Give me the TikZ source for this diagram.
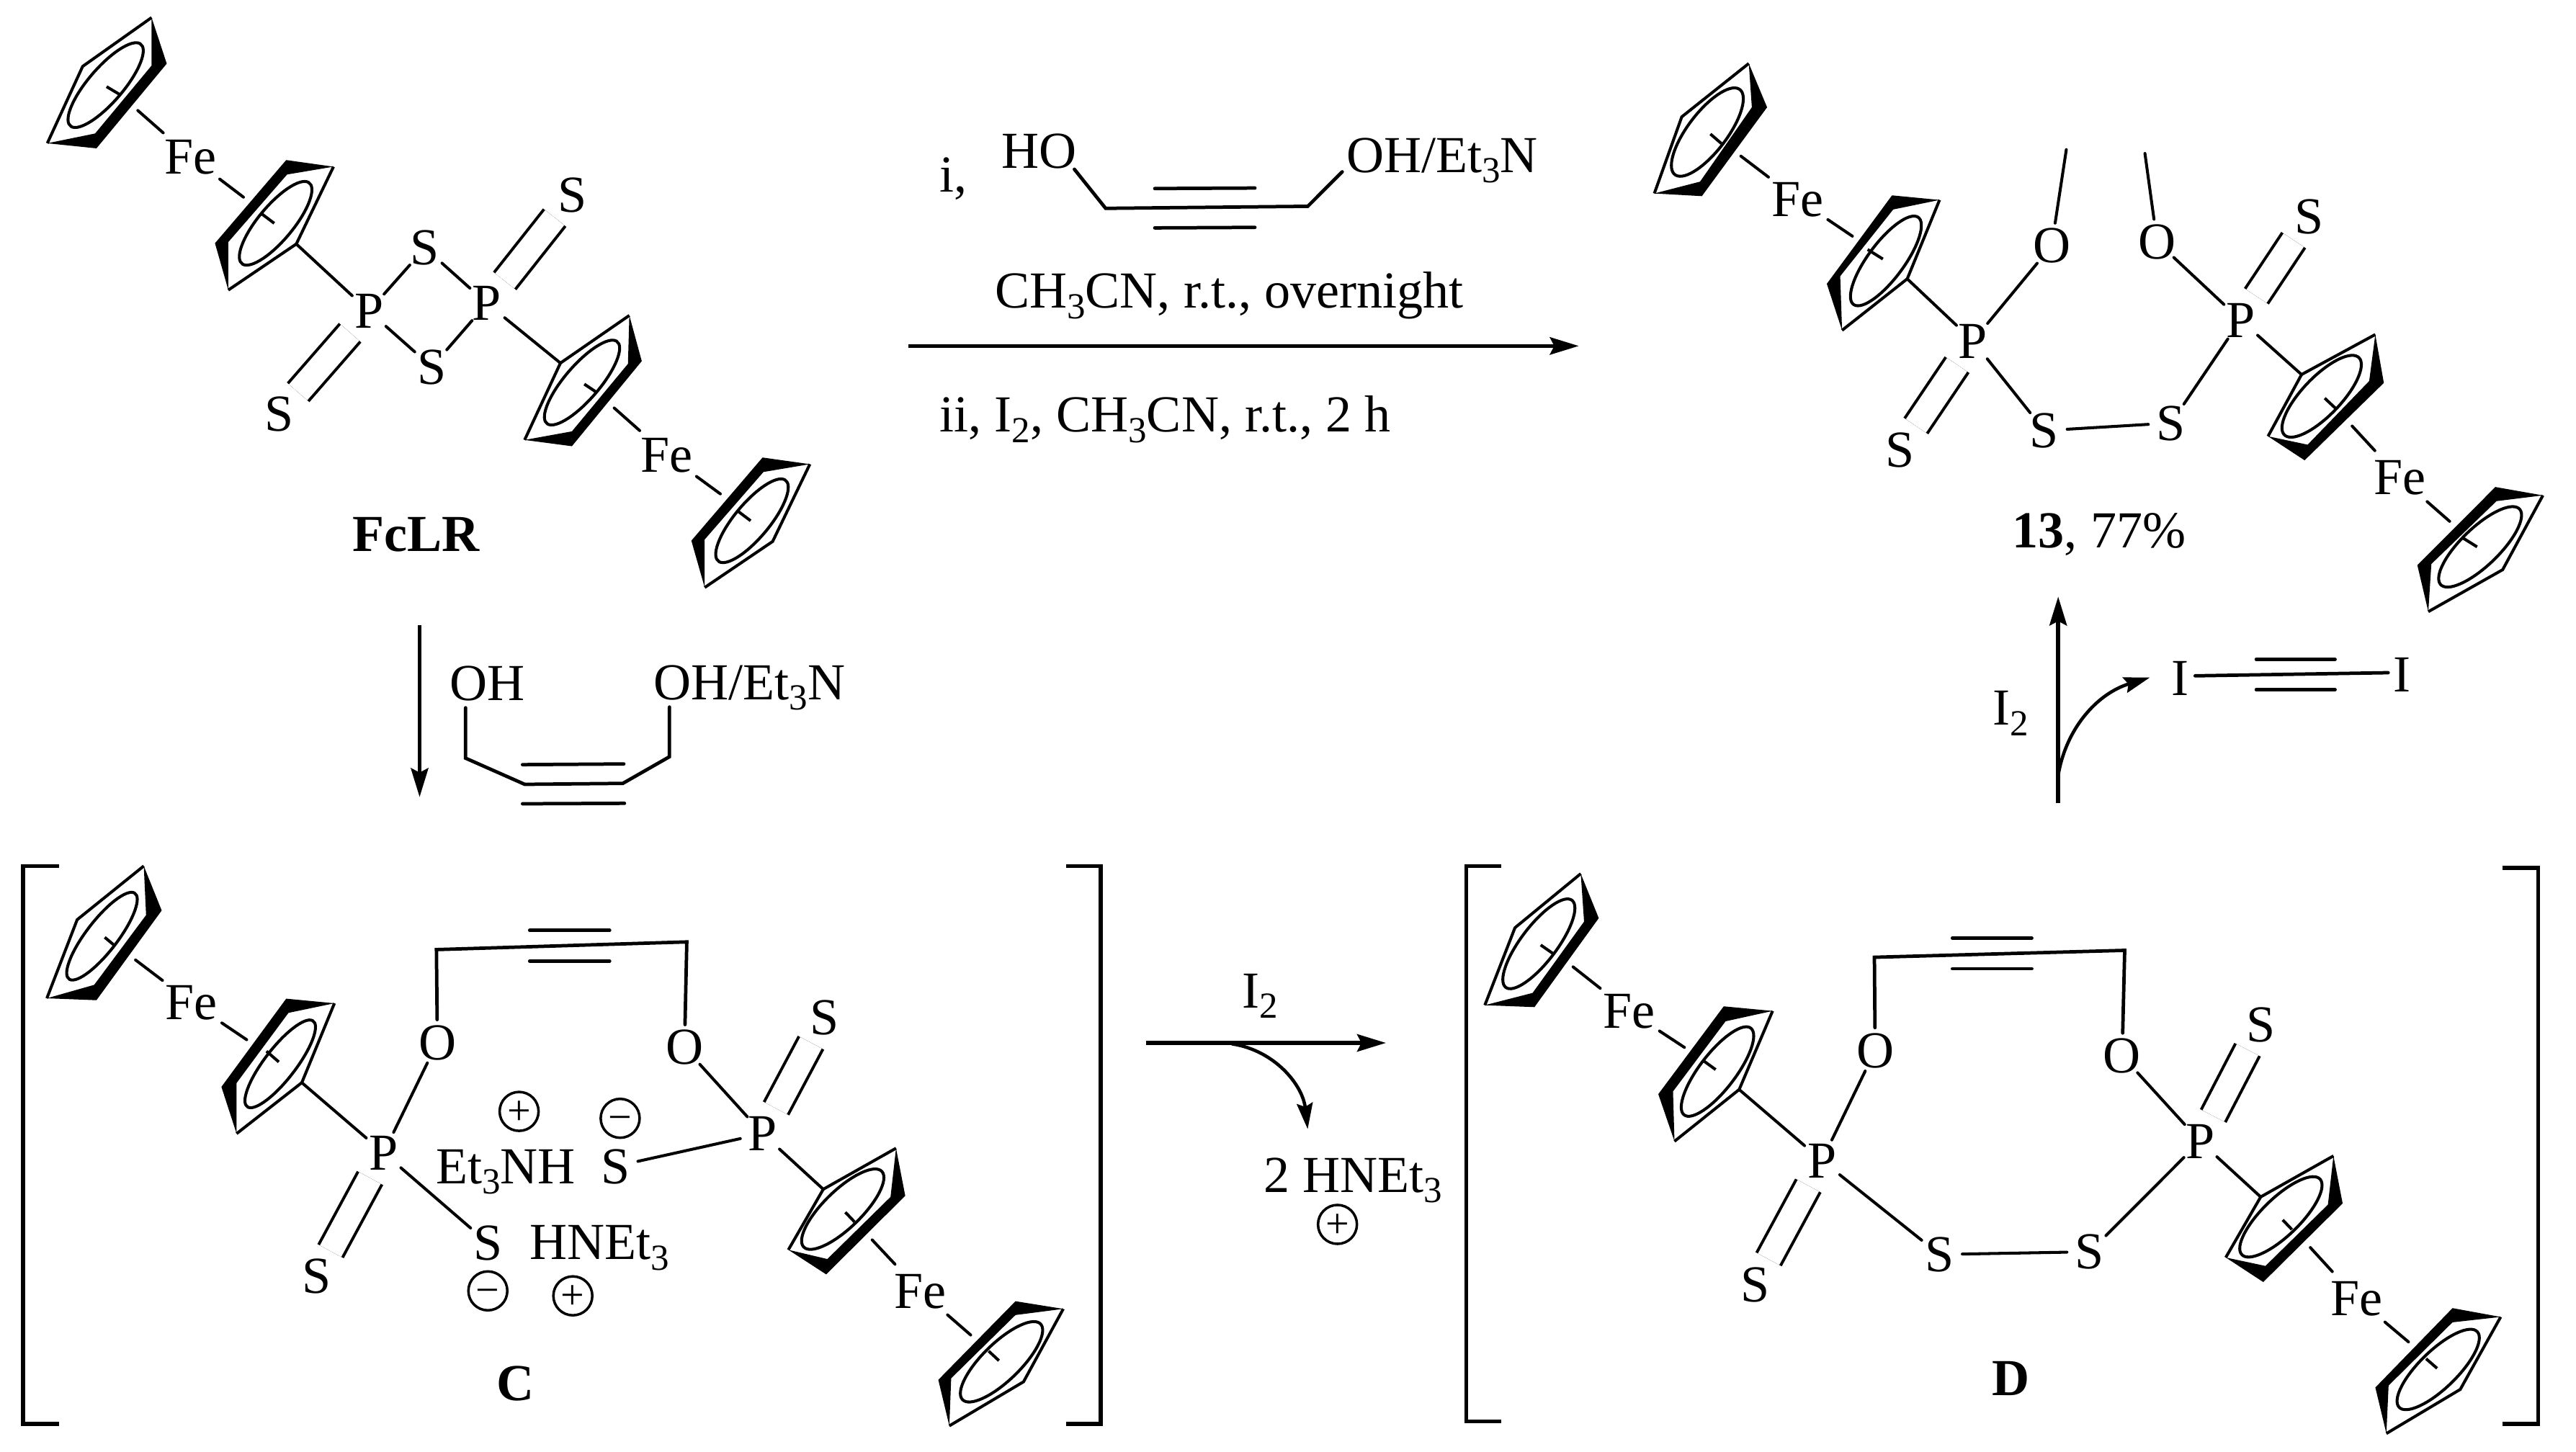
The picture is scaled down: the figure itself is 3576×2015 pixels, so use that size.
\documentclass[tikz,border=0pt]{standalone}
\usepackage{fontspec}
\setmainfont{Liberation Serif}
\usetikzlibrary{arrows.meta}
\newcommand\atm[1]{\makebox[0pt]{\raisebox{-0.33em}[0pt][0pt]{#1}}}
\newcommand\chgm[1]{\makebox[0pt]{\raisebox{-0.25em}[0pt][0pt]{\fontsize{16.5}{18}\selectfont #1}}}
\newcommand\subs[1]{\raisebox{-0.2em}{\fontsize{14.5}{16}\selectfont #1}}
% ring: A B C D E innerD innerA name-of-E
\newcommand\cpring[8]{%
  \coordinate (#8) at (#5);
  \fill[black] (#1) -- (#2) -- (#3) -- (#4) -- (#6) -- (#7) -- cycle;
  \draw[ringline] (#1) -- (#5) -- (#4);}
% ellipse: centre a b angle tick1 tick2
\newcommand\cpell[6]{%
  \draw[ringline] (#1) circle[x radius=#2, y radius=#3, rotate=#4];
  \draw[ringline] (#5) -- (#6);}
\newcommand\frbond[3]{\coordinate (#1) at (#2); \draw[bond] (#3) -- (#1);}
\newcommand\seg[4][alk]{\coordinate (#2a) at (#3); \coordinate (#2b) at (#4); \draw[#1] (#2a) -- (#2b);}
\tikzset{
  bond/.style={line width=1.15pt,line cap=round},
  alk/.style={line width=1.35pt,line cap=round},
  ringline/.style={line width=1.15pt},
  dbl/.style={line width=1.15pt,double,double distance=0.335cm,shorten >=0.08cm,shorten <=0.08cm},
  atom/.style={circle,inner sep=0pt,minimum size=0.62cm},
  feat/.style={circle,inner sep=0pt,minimum size=1cm},
  lbl/.style={inner sep=0pt,anchor=base west},
  chg/.style={draw,line width=1pt,circle,inner sep=0pt,minimum size=0.54cm},
  brk/.style={line width=1.55pt,line join=miter},
  rxn/.style={line width=1.55pt,-{Stealth[length=0.4cm,width=0.24cm,inset=0.06cm]}},
  crv/.style={line width=1.3pt,-{Stealth[length=0.36cm,width=0.22cm,inset=0.05cm]}},
  zm/.style n args={4}{shift={(#1,#2)},xscale=1/#3,yscale=1/#4},
}
\begin{document}
\begin{tikzpicture}[x=0.01cm,y=-0.01cm,font=\fontsize{20.5}{24}\selectfont]
\path[use as bounding box,fill=white] (0,0) rectangle (3576,2015);

% ===== FcLR =====
\begin{scope}[zm={0}{0}{1.568}{1.845}]
\cpring{330,45}{363,163}{210,380}{103,367}{180,170}{207,342}{330,168}{a1e}
\cpell{230,218}{130}{40}{54.7}{232,222}{262,243}
\cpring{497,743}{468,623}{623,410}{726,427}{645,625}{625,447}{497,620}{a2e}
\cpell{600,572}{127}{40}{55.6}{570,548}{597,572}
\cpring{1370,808}{1397,925}{1245,1143}{1142,1127}{1220,930}{1245,1105}{1367,932}{a3e}
\cpell{1267,980}{130}{40}{54.7}{1272,984}{1300,1006}
\cpring{1534,1505}{1505,1385}{1660,1172}{1763,1189}{1682,1387}{1662,1209}{1534,1382}{a4e}
\cpell{1637,1334}{127}{40}{55.6}{1607,1310}{1634,1334}
\node[feat] (aFe1) at (415,402) {\atm{Fe}};
\node[feat] (aFe2) at (1452,1165) {\atm{Fe}};
\node[atom] (aP1) at (803,797) {\atm{P}};
\node[atom] (aP2) at (1060,777) {\atm{P}};
\node[atom] (aS1) at (925,635) {\atm{S}};
\node[atom] (aS2) at (940,940) {\atm{S}};
\node[atom] (aS3) at (1246,500) {\atm{S}};
\node[atom] (aS4) at (608,1060) {\atm{S}};
\frbond{af1}{300,283}{aFe1}
\frbond{af2}{530,505}{aFe1}
\frbond{af3}{1337,1045}{aFe2}
\frbond{af4}{1568,1265}{aFe2}
\draw[bond] (aP1) -- (a2e);
\draw[bond] (aP2) -- (a3e);
\draw[bond] (aP1) -- (aS1);
\draw[bond] (aP1) -- (aS2);
\draw[bond] (aP2) -- (aS1);
\draw[bond] (aP2) -- (aS2);
\draw[dbl] (aP2) -- (aS3);
\draw[dbl] (aP1) -- (aS4);
\node[lbl,anchor=base,font=\fontsize{20.5}{24}\selectfont\bfseries] (aName) at (906,1413) {FcLR};
\end{scope}

% ===== reagents top =====
\begin{scope}[zm={1200}{100}{1.568}{2.8}]
\node[lbl] (ti) at (163,465) {i,};
\node[lbl] (tHO) at (298,375) {HO};
\node[lbl] (tOH) at (1048,390) {OH/Et\subs{3}N};
\coordinate (t1) at (457,378); \coordinate (t2) at (525,530); \coordinate (t3) at (965,522); \coordinate (t4) at (1040,388);
\draw[alk,line join=miter] (t1) -- (t2) -- (t3) -- (t4);
\seg{tu}{632,453}{850,451}
\seg{td}{632,606}{850,604}
\node[lbl] (tA) at (283,918) {CH\subs{3}CN, r.t., overnight};
\node[lbl] (tB) at (163,1400) {ii, I\subs{2}, CH\subs{3}CN, r.t., 2 h};
\coordinate (ts) at (95,1065); \coordinate (te) at (1555,1065);
\draw[rxn] (ts) -- (te);
\end{scope}

% ===== compound 13 =====
\begin{scope}[zm={2250}{50}{1.182}{1.889}]
\cpring{210,72}{240,187}{133,420}{55,413}{100,212}{130,382}{215,187}{b1e}
\cpell{142,252}{125}{36}{67}{147,257}{165,282}
\cpring{363,772}{338,650}{445,418}{523,430}{470,637}{447,455}{360,630}{b2e}
\cpell{435,590}{127}{33}{67}{405,560}{430,585}
\cpring{1238,783}{1252,910}{1122,1113}{1062,1050}{1117,888}{1127,1072}{1228,905}{b3e}
\cpell{1150,945}{120}{37}{62}{1155,950}{1175,980}
\cpring{1325,1510}{1307,1388}{1435,1183}{1513,1205}{1447,1400}{1437,1220}{1330,1385}{b4e}
\cpell{1410,1340}{120}{37}{60}{1380,1315}{1405,1340}
\node[feat] (bFe1) at (290,428) {\atm{Fe}};
\node[feat] (bFe2) at (1278,1158) {\atm{Fe}};
\node[atom] (bP1) at (578,800) {\atm{P}};
\node[atom] (bP2) at (1017,745) {\atm{P}};
\node[atom] (bO1) at (707,550) {\atm{O}};
\node[atom] (bO2) at (880,540) {\atm{O}};
\node[atom] (bS1) at (695,1035) {\atm{S}};
\node[atom] (bS2) at (903,1015) {\atm{S}};
\node[atom] (bS3) at (1130,473) {\atm{S}};
\node[atom] (bS4) at (458,1085) {\atm{S}};
\frbond{bf1}{197,315}{bFe1}
\frbond{bf2}{380,525}{bFe1}
\frbond{bf3}{1200,1023}{bFe2}
\frbond{bf4}{1360,1273}{bFe2}
\frbond{bm1}{731,298}{bO1}
\frbond{bm2}{860,308}{bO2}
\draw[bond] (bP1) -- (b2e);
\draw[bond] (bP2) -- (b3e);
\draw[bond] (bP1) -- (bO1);
\draw[bond] (bP2) -- (bO2);
\draw[bond] (bP1) -- (bS1);
\draw[bond] (bS1) -- (bS2);
\draw[bond] (bS2) -- (bP2);
\draw[dbl] (bP2) -- (bS3);
\draw[dbl] (bP1) -- (bS4);
\node[lbl] (bName) at (642,1342) {\textbf{13}, 77\%};
\end{scope}

% ===== below FcLR =====
\begin{scope}[zm={520}{850}{2.24}{3}]
\coordinate (ds) at (140,55); \coordinate (de) at (140,770);
\draw[rxn] (ds) -- (de);
\node[lbl] (dOHa) at (232,367) {OH};
\node[lbl] (dOHb) at (866,363) {OH/Et\subs{3}N};
\coordinate (d1) at (283,398); \coordinate (d2) at (283,608); \coordinate (d3) at (467,717); \coordinate (d4) at (772,713); \coordinate (d5) at (917,602); \coordinate (d6) at (917,395);
\draw[alk,line join=miter] (d1) -- (d2) -- (d3) -- (d4) -- (d5) -- (d6);
\seg{du}{460,635}{775,632}
\seg{dd}{460,798}{777,796}
\end{scope}

% ===== compound C =====
\begin{scope}[zm={0}{1180}{1.568}{1.878}]
\coordinate (cb1) at (128,42); \coordinate (cb2) at (50,42); \coordinate (cb3) at (50,1497); \coordinate (cb4) at (128,1497);
\draw[brk] (cb1) -- (cb2) -- (cb3) -- (cb4);
\cpring{313,42}{352,158}{210,392}{102,387}{168,182}{205,352}{318,170}{c1e}
\cpell{222,225}{133}{36}{58}{228,228}{250,250}
\cpring{515,740}{482,618}{623,388}{728,400}{657,607}{628,425}{515,608}{c2e}
\cpell{610,558}{133}{36}{58}{580,525}{607,553}
\node[feat] (cFe1) at (417,398) {\atm{Fe}};
\node[atom] (cP1) at (835,790) {\atm{P}};
\node[atom] (cO1) at (952,502) {\atm{O}};
\node[atom] (cO2) at (1490,515) {\atm{O}};
\node[atom] (cS1) at (1062,1025) {\atm{S}};
\node[atom] (cS2) at (690,1112) {\atm{S}};
\node[atom] (cS3) at (1340,825) {\atm{S}};
\frbond{cf1}{295,287}{cFe1}
\frbond{cf2}{537,495}{cFe1}
\draw[bond] (cP1) -- (c2e);
\draw[bond] (cP1) -- (cO1);
\draw[bond] (cP1) -- (cS1);
\draw[dbl] (cP1) -- (cS2);
\coordinate (cc1) at (950,260); \coordinate (cc2) at (1495,240);
\draw[alk,line join=miter] (cO1) -- (cc1) -- (cc2) -- (cO2);
\seg{cu}{1153,210}{1327,210}
\seg{cd}{1153,290}{1327,290}
\node[chg] (cq1) at (1130,682) {\chgm{+}};
\node[chg] (cq2) at (1350,700) {\chgm{−}};
\node[chg] (cq3) at (1062,1150) {\chgm{−}};
\node[chg] (cq4) at (1247,1163) {\chgm{+}};
\node[lbl] (cEt) at (948,870) {Et\subs{3}NH};
\node[lbl] (cHN) at (1152,1068) {HNEt\subs{3}};
\node[lbl,anchor=base,font=\fontsize{20.5}{24}\selectfont\bfseries] (cName) at (1122,1435) {C};
\end{scope}
\begin{scope}[zm={800}{1180}{1.96}{1.878}]
\coordinate (cb5) at (1332,42); \coordinate (cb6) at (1427,42); \coordinate (cb7) at (1427,1497); \coordinate (cb8) at (1332,1497);
\draw[brk] (cb5) -- (cb6) -- (cb7) -- (cb8);
\cpring{870,778}{895,902}{680,1107}{577,1043}{672,885}{683,1067}{855,905}{c3e}
\cpell{725,937}{145}{50}{42.6}{732,945}{757,970}
\cpring{1015,1502}{985,1382}{1195,1177}{1325,1197}{1217,1387}{1195,1213}{1020,1378}{c4e}
\cpell{1157,1335}{145}{50}{42.6}{1122,1307}{1150,1332}
\node[feat] (cFe2) at (935,1150) {\atm{Fe}};
\node[atom] (cP2) at (507,740) {\atm{P}};
\node[atom] (cS4) at (675,437) {\atm{S}};
\frbond{cf3}{805,1017}{cFe2}
\frbond{cf4}{1073,1265}{cFe2}
\draw[bond] (cP2) -- (c3e);
\draw[bond] (cP2) -- (cO2);
\draw[bond] (cP2) -- (cS3);
\draw[dbl] (cP2) -- (cS4);
\end{scope}

% ===== C to D arrow =====
\begin{scope}[zm={1550}{1300}{3}{3}]
\node[lbl] (eI) at (520,298) {I\subs{2}};
\coordinate (es) at (122,444); \coordinate (ee) at (1122,444);
\draw[rxn] (es) -- (ee);
\coordinate (ea) at (480,448); \coordinate (eb) at (796,803);
\draw[crv] (ea) .. controls (660,475) and (775,620) .. (eb);
\node[lbl] (eH) at (612,1065) {2 HNEt\subs{3}};
\node[chg] (eq) at (920,1200) {\chgm{+}};
\end{scope}

% ===== D to 13 arrow =====
\begin{scope}[zm={2700}{800}{2.24}{3}]
\coordinate (fs) at (352,945); \coordinate (fe) at (352,85);
\draw[rxn] (fs) -- (fe);
\coordinate (fa) at (352,830); \coordinate (fb) at (637,422);
\draw[crv] (fa) .. controls (375,640) and (470,490) .. (fb);
\node[lbl] (fI) at (147,620) {I\subs{2}};
\node[lbl,anchor=base] (fIa) at (731,497) {I};
\node[lbl,anchor=base] (fIb) at (1421,480) {I};
\coordinate (fc) at (778,415); \coordinate (fd) at (1378,402);
\draw[alk] (fc) -- (fd);
\seg{fu}{968,346}{1213,346}
\seg{fl}{968,473}{1213,473}
\end{scope}

% ===== compound D =====
\begin{scope}[zm={2000}{1180}{1.96}{1.878}]
\coordinate (gb1) at (165,42); \coordinate (gb2) at (70,42); \coordinate (gb3) at (70,1490); \coordinate (gb4) at (165,1490);
\draw[brk] (gb1) -- (gb2) -- (gb3) -- (gb4);
\cpring{381,62}{430,178}{255,410}{120,405}{202,203}{250,373}{390,187}{g1e}
\cpell{267,245}{145}{48}{51.3}{272,248}{305,270}
\cpring{636,760}{592,637}{770,408}{903,420}{812,625}{775,447}{632,630}{g2e}
\cpell{753,578}{145}{48}{51}{715,550}{748,573}
\node[feat] (gFe1) at (512,420) {\atm{Fe}};
\node[atom] (gP1) at (1037,810) {\atm{P}};
\node[atom] (gO1) at (1182,523) {\atm{O}};
\node[atom] (gS1) at (855,1133) {\atm{S}};
\node[atom] (gS2) at (1357,1055) {\atm{S}};
\frbond{gf1}{360,305}{gFe1}
\frbond{gf2}{663,515}{gFe1}
\draw[bond] (gP1) -- (g2e);
\draw[bond] (gP1) -- (gO1);
\draw[bond] (gP1) -- (gS2);
\draw[dbl] (gP1) -- (gS1);
\coordinate (gc1) at (1180,280);
\seg{gu}{1392,230}{1608,230}
\seg{gd}{1392,310}{1608,310}
\node[lbl,anchor=base,font=\fontsize{20.5}{24}\selectfont\bfseries] (gName) at (1552,1422) {D};
\end{scope}
\begin{scope}[zm={2776}{1180}{1.96}{1.878}]
\coordinate (gb5) at (1368,47); \coordinate (gb6) at (1465,47); \coordinate (gb7) at (1465,1497); \coordinate (gb8) at (1368,1497);
\draw[brk] (gb5) -- (gb6) -- (gb7) -- (gb8);
\cpring{908,798}{933,922}{717,1127}{615,1063}{710,905}{723,1085}{893,925}{g3e}
\cpell{765,957}{145}{50}{42.6}{770,965}{795,990}
\cpring{1052,1522}{1022,1402}{1232,1195}{1363,1218}{1253,1407}{1232,1232}{1058,1397}{g4e}
\cpell{1193,1355}{145}{50}{42.6}{1160,1327}{1190,1352}
\node[feat] (gFe2) at (972,1170) {\atm{Fe}};
\node[atom] (gP2) at (545,760) {\atm{P}};
\node[atom] (gO2) at (333,537) {\atm{O}};
\node[atom] (gS3) at (245,1048) {\atm{S}};
\node[atom] (gS4) at (710,455) {\atm{S}};
\frbond{gf3}{845,1037}{gFe2}
\frbond{gf4}{1112,1283}{gFe2}
\draw[bond] (gP2) -- (g3e);
\draw[bond] (gP2) -- (gO2);
\draw[bond] (gP2) -- (gS3);
\draw[dbl] (gP2) -- (gS4);
\coordinate (gc2) at (340,262);
\draw[bond] (gS2) -- (gS3);
\draw[alk,line join=miter] (gO1) -- (gc1) -- (gc2) -- (gO2);
\end{scope}
\end{tikzpicture}
\end{document}
